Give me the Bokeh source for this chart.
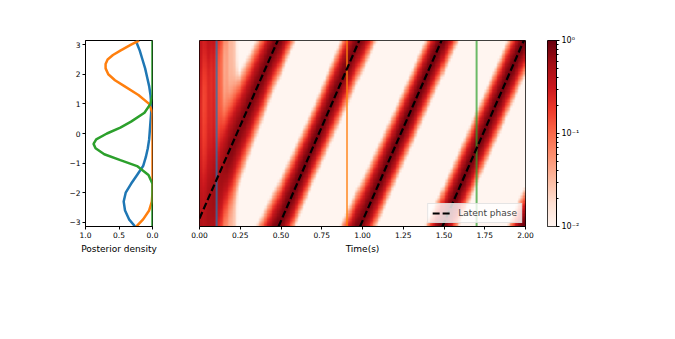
import numpy as np
from bokeh.plotting import figure
from bokeh.layouts import row
from bokeh.models import Range1d, FixedTicker, LogColorMapper, CustomJSTickFormatter
from bokeh.palettes import Reds256
from bokeh.embed import file_html
from bokeh.resources import INLINE

PI = np.pi
FONT = "DejaVu Sans"

# ---------------- data ----------------
# latent phase: wrapped straight segments (time start/end, phase start/end)
latent_t_start = [0.0, 0.485, 0.985, 1.49]
latent_t_end = [0.48, 0.98, 1.485, 1.99]
latent_ph_start = [-2.87, -3.1416, -3.1416, -3.1416]
latent_ph_end = [3.1416, 3.1416, 3.1416, 3.1416]

# snapshot times (vertical lines) and their colours
snap_times = [0.105, 0.905, 1.70]
snap_colors = ["#1f77b4", "#ff7f0e", "#2ca02c"]

# posterior density at the snapshot times (left panel)
blue_phase = [-3.14, -2.9, -2.6, -2.3, -2.0, -1.7, -1.4, -1.1, -0.8, -0.5, -0.2,
              0.1, 0.4, 0.7, 1.0, 1.3, 1.6, 1.9, 2.2, 2.5, 2.8, 3.14]
blue_dens = [0.26, 0.35, 0.41, 0.43, 0.40, 0.32, 0.23, 0.14, 0.10, 0.07, 0.05,
             0.04, 0.03, 0.02, 0.02, 0.03, 0.05, 0.08, 0.11, 0.15, 0.19, 0.25]
orange_phase = [-3.14, -2.9, -2.6, -2.3, -2.0, 0.7, 1.0, 1.3, 1.6, 1.8, 2.0, 2.2,
                2.35, 2.5, 2.65, 2.8, 3.0, 3.14]
orange_dens = [0.24, 0.14, 0.05, 0.01, 0.0, 0.0, 0.05, 0.21, 0.42, 0.56, 0.66, 0.70,
               0.70, 0.67, 0.59, 0.48, 0.32, 0.20]
green_phase = [-3.14, -1.7, -1.4, -1.1, -0.9, -0.7, -0.5, -0.35, -0.2, 0.0, 0.2,
               0.4, 0.7, 1.0, 1.3, 3.14]
green_dens = [0.0, 0.0, 0.06, 0.23, 0.48, 0.72, 0.85, 0.88, 0.84, 0.68, 0.48,
              0.32, 0.12, 0.03, 0.0, 0.0]

# posterior band around the latent phase (heat map), read at knot times
knot_t = [0.00, 0.10, 0.18, 0.30, 0.45, 0.70, 0.90, 1.20, 1.50, 1.70, 2.00]
knot_offset = [-0.3, -0.3, -0.1, 0.0, 0.05, 0.05, 0.1, 0.0, 0.0, 0.0, 0.0]
knot_sigma = [1.0, 0.9, 0.75, 0.62, 0.52, 0.45, 0.5, 0.45, 0.45, 0.45, 0.45]
knot_peak = [0.15, 0.3, 0.7, 0.8, 0.85, 0.9, 0.8, 0.9, 0.9, 0.88, 0.9]

# diffuse posterior during the first quarter second (upper / lower part of column)
early_t = [0.00, 0.01, 0.02, 0.03, 0.04, 0.05, 0.06, 0.07, 0.08, 0.09, 0.10, 0.11,
           0.12, 0.13, 0.14, 0.15, 0.16, 0.17, 0.18, 0.19, 0.20, 0.21, 0.22, 0.23, 0.24]
early_top = [0.18, 0.20, 0.10, 0.09, 0.13, 0.17, 0.22, 0.16, 0.20, 0.24, 0.15, 0.12,
             0.09, 0.11, 0.06, 0.05, 0.03, 0.06, 0.025, 0.04, 0.025, 0.035, 0.018, 0.014, 0.01]
early_bottom = [0.30, 0.32, 0.25, 0.24, 0.28, 0.30, 0.33, 0.30, 0.32, 0.35, 0.25, 0.16,
                0.12, 0.14, 0.09, 0.06, 0.04, 0.06, 0.03, 0.04, 0.025, 0.03, 0.02, 0.012, 0.01]

time_ticks = [0.0, 0.25, 0.5, 0.75, 1.0, 1.25, 1.5, 1.75, 2.0]
phase_ticks = [-3, -2, -1, 0, 1, 2, 3]
dens_ticks = [1.0, 0.5, 0.0]

# ---------------- build the heat map ----------------
nx, ny = 200, 72
t_c = (np.arange(nx) + 0.5) * (2.0 / nx)
ph_c = -PI + (np.arange(ny) + 0.5) * (2 * PI / ny)

lat = np.empty(nx)
for i, t in enumerate(t_c):
    k = min(int(np.searchsorted(latent_t_end, t)), len(latent_t_end) - 1)
    lat[i] = np.interp(t, [latent_t_start[k], latent_t_end[k]],
                       [latent_ph_start[k], latent_ph_end[k]])
center = lat + np.interp(t_c, knot_t, knot_offset)
sigma = np.interp(t_c, knot_t, knot_sigma)
peak = np.interp(t_c, knot_t, knot_peak)
ftop = np.interp(t_c, early_t, early_top, right=0.0)
fbot = np.interp(t_c, early_t, early_bottom, right=0.0)

PH, _ = np.meshgrid(ph_c, t_c, indexing="ij")
d = (PH - center[None, :] + PI) % (2 * PI) - PI
band = peak[None, :] * np.exp(-d ** 2 / (2 * sigma[None, :] ** 2))
w = (PH + PI) / (2 * PI)
floor = fbot[None, :] * (1 - w) + ftop[None, :] * w
img = np.clip(band + floor, 1e-3, 1.0)

palette = list(reversed(Reds256))
mapper = LogColorMapper(palette=palette, low=0.01, high=1.0)


def style(p):
    p.xgrid.visible = False
    p.ygrid.visible = False
    p.outline_line_color = "black"
    p.outline_line_width = 1
    p.background_fill_color = "white"
    p.border_fill_color = "white"
    for ax in p.axis:
        ax.axis_line_color = "black"
        ax.major_tick_line_color = "black"
        ax.minor_tick_line_color = None
        ax.major_tick_out = 3
        ax.major_tick_in = 0
        ax.major_label_text_font = FONT
        ax.major_label_text_font_size = "7.5px"
        ax.major_label_text_color = "black"
        ax.major_label_standoff = 2
        ax.axis_label_text_font = FONT
        ax.axis_label_text_font_size = "9px"
        ax.axis_label_text_font_style = "normal"
        ax.axis_label_text_color = "black"
        ax.axis_label_standoff = 3


TOP = 40
BOTTOM = 70

# ---------------- left panel: posterior density ----------------
pa = figure(frame_width=67, frame_height=186, min_border_left=85, min_border_right=10,
            min_border_top=TOP, min_border_bottom=BOTTOM,
            x_range=Range1d(1.0, 0.0), y_range=Range1d(-PI, PI),
            toolbar_location=None, output_backend="svg")
for ph, dn, c in [(blue_phase, blue_dens, snap_colors[0]),
                  (orange_phase, orange_dens, snap_colors[1]),
                  (green_phase, green_dens, snap_colors[2])]:
    pa.line(dn, ph, line_color=c, line_width=2.5)
style(pa)
pa.xaxis.ticker = FixedTicker(ticks=dens_ticks)
pa.xaxis.formatter = CustomJSTickFormatter(code="return tick.toFixed(1);")
pa.yaxis.ticker = FixedTicker(ticks=phase_ticks)
pa.yaxis.formatter = CustomJSTickFormatter(
    code="return tick < 0 ? '\u2212' + Math.abs(tick) : '' + tick;")
pa.xaxis.axis_label = "Posterior density"

# ---------------- main panel: heat map ----------------
pb = figure(frame_width=326, frame_height=186, min_border_left=37, min_border_right=12,
            min_border_top=TOP, min_border_bottom=BOTTOM,
            x_range=Range1d(0, 2), y_range=Range1d(-PI, PI),
            toolbar_location=None, output_backend="svg")
pb.image(image=[img], x=0, y=-PI, dw=2.0, dh=2 * PI, color_mapper=mapper)
pb.segment(x0=snap_times, y0=[-PI] * 3, x1=snap_times, y1=[PI] * 3,
           line_color=snap_colors, line_width=2, line_alpha=0.7)
xs = [[a, b] for a, b in zip(latent_t_start, latent_t_end)]
ys = [[a, b] for a, b in zip(latent_ph_start, latent_ph_end)]
pb.multi_line(xs, ys, line_color="black", line_width=2.2, line_dash="7 3",
              legend_label="Latent phase")
style(pb)
pb.yaxis.visible = False
pb.xaxis.ticker = FixedTicker(ticks=time_ticks)
pb.xaxis.formatter = CustomJSTickFormatter(code="return tick.toFixed(2);")
pb.xaxis.axis_label = "Time(s)"
lg = pb.legend[0]
lg.location = "bottom_right"
lg.label_text_font = FONT
lg.label_text_font_size = "9px"
lg.label_height = 10
lg.glyph_height = 10
lg.glyph_width = 18
lg.label_standoff = 8
lg.padding = 4
lg.spacing = 0
lg.margin = 3
lg.background_fill_alpha = 0.8
lg.border_line_color = "#cccccc"
lg.border_line_width = 1

# ---------------- colour bar ----------------
cb_vals = np.logspace(-2, 0, 256).reshape(-1, 1)
pc = figure(frame_width=9, frame_height=186, min_border_left=10, min_border_right=40,
            min_border_top=TOP, min_border_bottom=BOTTOM,
            x_range=Range1d(0, 1), y_range=Range1d(-2, 0), y_axis_location="right",
            toolbar_location=None, output_backend="svg")
pc.image(image=[cb_vals], x=0, y=-2, dw=1, dh=2, color_mapper=mapper)
style(pc)
pc.xaxis.visible = False
minor = [float(np.log10(m * 10.0 ** e)) for e in (-2, -1) for m in range(2, 10)]
pc.yaxis.ticker = FixedTicker(ticks=[-2, -1, 0], minor_ticks=minor)
pc.yaxis.minor_tick_line_color = "black"
pc.yaxis.minor_tick_out = 2
pc.yaxis.minor_tick_in = 0
pc.yaxis.major_label_text_font_size = "8px"
pc.yaxis.formatter = CustomJSTickFormatter(
    code="if (tick > -0.5) return '10\u2070'; if (tick > -1.5) return '10\u207b\u00b9'; return '10\u207b\u00b2';")

layout = row(pa, pb, pc, spacing=0)
open("out.html", "w").write(file_html(layout, INLINE))
